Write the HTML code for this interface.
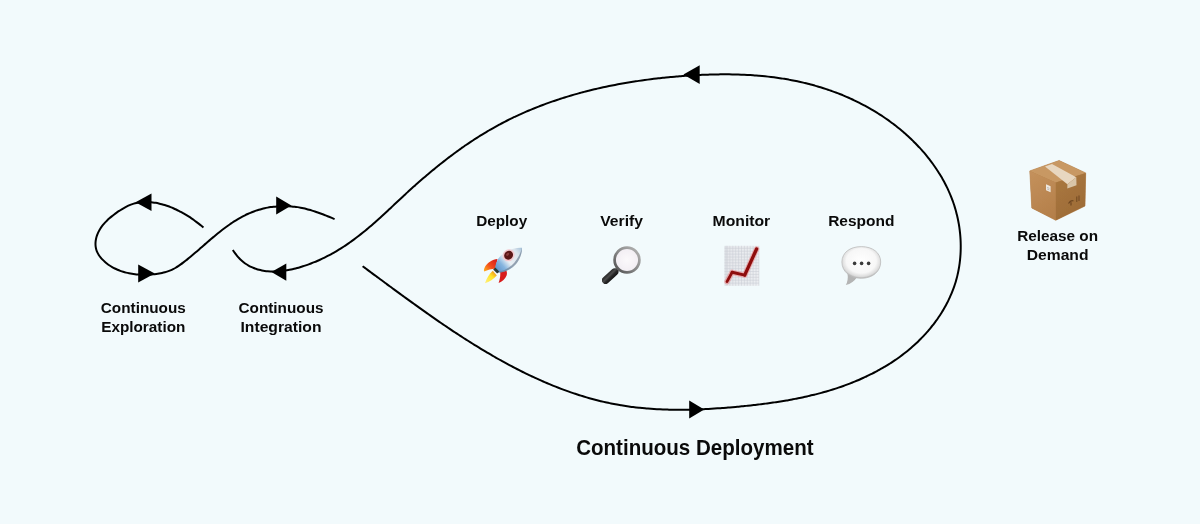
<!DOCTYPE html>
<html><head><meta charset="utf-8"><style>
html,body{margin:0;padding:0;background:#F2FAFC;}
body{width:1200px;height:524px;overflow:hidden;position:relative;}
svg{position:absolute;left:0;top:0;}
text{font-family:"Liberation Sans",sans-serif;font-weight:bold;fill:#0a0a0a;text-anchor:middle;}
</style></head><body>
<svg width="1200" height="524" viewBox="0 0 1200 524">
<defs><filter id="soft" x="-10%" y="-10%" width="120%" height="120%"><feGaussianBlur stdDeviation="0.35"/></filter></defs>

<path d="M203.45,227.50C202.65,226.84 201.85,226.19 201.06,225.55C200.26,224.91 199.46,224.28 198.66,223.66C197.86,223.04 197.07,222.43 196.26,221.83C195.46,221.23 194.66,220.64 193.86,220.06C193.05,219.48 192.24,218.91 191.43,218.35C190.62,217.79 189.80,217.24 188.98,216.70C188.15,216.17 187.32,215.64 186.49,215.12C185.66,214.61 184.81,214.10 183.97,213.61C183.12,213.12 182.26,212.63 181.39,212.16C180.53,211.69 179.66,211.23 178.77,210.79C177.89,210.34 176.99,209.90 176.09,209.48C175.18,209.05 174.26,208.64 173.33,208.24C172.41,207.84 171.47,207.46 170.52,207.09C169.57,206.71 168.61,206.36 167.64,206.02C166.67,205.68 165.70,205.35 164.72,205.05C163.74,204.74 162.75,204.46 161.76,204.19C160.77,203.92 159.77,203.68 158.77,203.45C157.77,203.23 156.77,203.03 155.77,202.85C154.77,202.67 153.76,202.52 152.76,202.39C151.76,202.27 150.75,202.16 149.75,202.09C148.75,202.02 147.75,201.97 146.76,201.96C145.77,201.94 144.77,201.96 143.79,202.00C142.81,202.05 141.83,202.12 140.86,202.23C139.88,202.35 138.92,202.49 137.96,202.67C137.01,202.85 136.06,203.06 135.13,203.31C134.19,203.56 133.26,203.85 132.34,204.16C131.43,204.48 130.52,204.82 129.62,205.20C128.71,205.57 127.82,205.98 126.94,206.41C126.05,206.84 125.17,207.29 124.30,207.77C123.43,208.25 122.57,208.75 121.71,209.27C120.86,209.80 120.01,210.34 119.17,210.90C118.33,211.46 117.49,212.04 116.66,212.63C115.83,213.23 115.01,213.83 114.19,214.46C113.37,215.08 112.56,215.71 111.76,216.36C110.96,217.01 110.17,217.67 109.40,218.35C108.62,219.03 107.86,219.72 107.12,220.43C106.39,221.14 105.67,221.87 104.97,222.62C104.28,223.37 103.61,224.13 102.97,224.92C102.33,225.71 101.72,226.51 101.14,227.34C100.57,228.17 100.02,229.02 99.52,229.90C99.02,230.77 98.55,231.67 98.13,232.58C97.71,233.50 97.33,234.43 97.01,235.38C96.68,236.32 96.40,237.28 96.17,238.24C95.94,239.21 95.77,240.18 95.65,241.15C95.54,242.11 95.48,243.08 95.48,244.05C95.49,245.01 95.56,245.97 95.69,246.91C95.83,247.86 96.03,248.79 96.31,249.70C96.59,250.62 96.94,251.52 97.35,252.39C97.77,253.27 98.25,254.13 98.78,254.96C99.32,255.79 99.90,256.60 100.54,257.39C101.17,258.17 101.85,258.94 102.56,259.67C103.27,260.40 104.01,261.11 104.78,261.79C105.54,262.47 106.33,263.11 107.14,263.73C107.95,264.35 108.77,264.94 109.61,265.50C110.44,266.06 111.30,266.59 112.16,267.09C113.03,267.59 113.91,268.06 114.81,268.51C115.70,268.96 116.61,269.37 117.53,269.77C118.44,270.16 119.37,270.53 120.31,270.87C121.25,271.21 122.20,271.53 123.16,271.82C124.12,272.11 125.09,272.38 126.06,272.62C127.04,272.87 128.02,273.09 129.01,273.29C129.99,273.49 130.99,273.67 131.99,273.82C132.99,273.98 133.99,274.11 135.00,274.22C136.00,274.34 137.01,274.43 138.03,274.51C139.04,274.58 140.05,274.64 141.07,274.67C142.08,274.71 143.10,274.73 144.12,274.73C145.13,274.73 146.15,274.71 147.16,274.68C148.17,274.64 149.18,274.59 150.19,274.53C151.20,274.46 152.20,274.38 153.20,274.29C154.20,274.19 155.20,274.08 156.19,273.96C157.18,273.83 158.16,273.69 159.14,273.52C160.11,273.36 161.08,273.18 162.04,272.97C163.00,272.76 163.96,272.53 164.90,272.27C165.85,272.02 166.78,271.73 167.70,271.42C168.63,271.11 169.54,270.77 170.44,270.39C171.34,270.02 172.23,269.61 173.11,269.17C173.98,268.72 174.85,268.24 175.70,267.74C176.55,267.24 177.39,266.70 178.22,266.15C179.06,265.60 179.88,265.02 180.70,264.43C181.51,263.84 182.32,263.24 183.12,262.63C183.92,262.01 184.72,261.39 185.51,260.77C186.30,260.15 187.09,259.52 187.87,258.88C188.66,258.25 189.43,257.62 190.21,256.98C190.98,256.34 191.76,255.69 192.53,255.05C193.29,254.40 194.06,253.75 194.82,253.10C195.59,252.45 196.35,251.80 197.11,251.14C197.87,250.49 198.63,249.83 199.38,249.17C200.14,248.52 200.89,247.86 201.65,247.20C202.40,246.54 203.16,245.88 203.91,245.22C204.67,244.57 205.42,243.91 206.18,243.25C206.93,242.59 207.69,241.94 208.45,241.28C209.21,240.63 209.96,239.98 210.73,239.33C211.49,238.68 212.25,238.03 213.01,237.38C213.78,236.74 214.55,236.09 215.32,235.45C216.09,234.82 216.86,234.18 217.64,233.55C218.42,232.92 219.20,232.29 219.98,231.67C220.77,231.04 221.56,230.42 222.35,229.81C223.15,229.20 223.95,228.59 224.75,227.99C225.55,227.39 226.36,226.80 227.17,226.21C227.98,225.63 228.80,225.05 229.62,224.48C230.45,223.91 231.27,223.35 232.10,222.79C232.94,222.24 233.77,221.69 234.62,221.16C235.46,220.63 236.31,220.10 237.16,219.59C238.02,219.07 238.88,218.57 239.74,218.08C240.61,217.59 241.48,217.11 242.36,216.64C243.24,216.18 244.12,215.72 245.01,215.28C245.90,214.84 246.80,214.41 247.70,214.00C248.61,213.58 249.52,213.18 250.43,212.80C251.35,212.41 252.27,212.04 253.20,211.69C254.13,211.33 255.07,210.99 256.02,210.67C256.96,210.35 257.91,210.05 258.87,209.76C259.83,209.47 260.80,209.20 261.77,208.94C262.74,208.69 263.71,208.45 264.69,208.23C265.67,208.00 266.66,207.80 267.64,207.61C268.63,207.42 269.63,207.25 270.62,207.10C271.62,206.94 272.61,206.81 273.61,206.69C274.61,206.57 275.62,206.46 276.62,206.38C277.62,206.29 278.63,206.22 279.64,206.17C280.64,206.12 281.65,206.09 282.65,206.07C283.66,206.05 284.66,206.05 285.67,206.07C286.67,206.09 287.67,206.12 288.68,206.17C289.68,206.23 290.68,206.30 291.67,206.39C292.67,206.47 293.66,206.58 294.65,206.70C295.64,206.82 296.63,206.97 297.61,207.12C298.59,207.28 299.57,207.46 300.54,207.65C301.52,207.84 302.49,208.04 303.46,208.26C304.43,208.48 305.39,208.71 306.36,208.96C307.32,209.21 308.28,209.47 309.23,209.74C310.19,210.01 311.15,210.30 312.10,210.59C313.05,210.89 314.00,211.19 314.94,211.51C315.89,211.82 316.84,212.15 317.78,212.48C318.72,212.81 319.66,213.15 320.60,213.50C321.54,213.85 322.48,214.20 323.41,214.56C324.35,214.92 325.28,215.29 326.22,215.66C327.15,216.03 328.08,216.41 329.01,216.78C329.94,217.16 330.87,217.54 331.80,217.93C332.73,218.31 333.66,218.70 334.59,219.09" fill="none" stroke="#000" stroke-width="2"/>
<path d="M232.85,249.97C233.48,250.99 234.14,251.97 234.81,252.90C235.48,253.84 236.16,254.73 236.86,255.59C237.57,256.44 238.29,257.25 239.02,258.03C239.75,258.80 240.50,259.54 241.27,260.23C242.03,260.93 242.81,261.59 243.60,262.22C244.39,262.84 245.20,263.43 246.02,263.98C246.83,264.53 247.66,265.05 248.51,265.53C249.35,266.02 250.20,266.47 251.07,266.89C251.93,267.31 252.81,267.70 253.69,268.05C254.58,268.41 255.47,268.73 256.37,269.03C257.28,269.33 258.19,269.59 259.11,269.83C260.03,270.07 260.96,270.28 261.90,270.47C262.83,270.65 263.77,270.81 264.72,270.94C265.67,271.07 266.63,271.18 267.59,271.26C268.55,271.35 269.51,271.41 270.48,271.45C271.46,271.48 272.43,271.50 273.41,271.49C274.39,271.49 275.37,271.46 276.35,271.41C277.34,271.37 278.32,271.30 279.31,271.21C280.30,271.13 281.29,271.03 282.28,270.91C283.27,270.79 284.26,270.65 285.25,270.50C286.24,270.34 287.23,270.18 288.22,269.99C289.21,269.81 290.20,269.61 291.19,269.41C292.18,269.20 293.16,268.97 294.14,268.74C295.13,268.51 296.11,268.26 297.08,268.00C298.06,267.74 299.04,267.47 300.01,267.19C300.98,266.91 301.95,266.62 302.91,266.32C303.88,266.01 304.84,265.70 305.81,265.38C306.77,265.05 307.72,264.72 308.68,264.37C309.63,264.02 310.58,263.67 311.53,263.30C312.48,262.94 313.42,262.56 314.36,262.17C315.30,261.79 316.24,261.39 317.17,260.99C318.11,260.59 319.04,260.17 319.96,259.75C320.89,259.33 321.81,258.90 322.73,258.46C323.65,258.02 324.56,257.57 325.47,257.11C326.38,256.66 327.29,256.19 328.19,255.72C329.09,255.25 329.98,254.77 330.88,254.28C331.77,253.80 332.66,253.30 333.54,252.80C334.42,252.30 335.30,251.79 336.18,251.28C337.05,250.76 337.92,250.24 338.78,249.71C339.65,249.18 340.51,248.65 341.36,248.11C342.21,247.57 343.06,247.02 343.91,246.47C344.75,245.92 345.59,245.36 346.42,244.80C347.25,244.24 348.08,243.67 348.90,243.10C349.73,242.53 350.54,241.95 351.36,241.37C352.17,240.78 352.98,240.20 353.78,239.60C354.58,239.01 355.38,238.42 356.18,237.82C356.97,237.22 357.76,236.61 358.55,236.00C359.33,235.39 360.11,234.78 360.89,234.16C361.67,233.54 362.45,232.92 363.22,232.30C363.99,231.68 364.76,231.05 365.52,230.42C366.29,229.78 367.05,229.15 367.81,228.51C368.56,227.87 369.32,227.23 370.07,226.59C370.83,225.94 371.58,225.30 372.32,224.65C373.07,224.00 373.82,223.35 374.56,222.69C375.30,222.04 376.04,221.38 376.78,220.72C377.52,220.06 378.26,219.40 378.99,218.74C379.73,218.07 380.46,217.41 381.19,216.74C381.93,216.07 382.66,215.40 383.39,214.73C384.12,214.06 384.85,213.39 385.57,212.72C386.30,212.04 387.03,211.37 387.76,210.69C388.48,210.02 389.21,209.34 389.93,208.66C390.66,207.98 391.38,207.31 392.11,206.63C392.83,205.95 393.56,205.27 394.28,204.59C395.01,203.91 395.73,203.23 396.46,202.55C397.19,201.87 397.91,201.19 398.64,200.51C399.37,199.83 400.09,199.15 400.82,198.47C401.55,197.79 402.28,197.11 403.01,196.43C403.74,195.75 404.47,195.07 405.21,194.40C405.94,193.72 406.67,193.04 407.41,192.37C408.15,191.69 408.89,191.02 409.63,190.34C410.37,189.67 411.11,189.00 411.85,188.33C412.60,187.65 413.34,186.98 414.09,186.32C414.84,185.65 415.58,184.98 416.33,184.32C417.09,183.65 417.84,182.98 418.59,182.32C419.35,181.66 420.10,181.00 420.86,180.34C421.62,179.68 422.38,179.02 423.14,178.36C423.90,177.71 424.66,177.05 425.43,176.40C426.19,175.75 426.96,175.09 427.73,174.44C428.50,173.80 429.27,173.15 430.04,172.50C430.81,171.86 431.59,171.21 432.36,170.57C433.14,169.93 433.91,169.29 434.69,168.65C435.47,168.01 436.25,167.38 437.04,166.74C437.82,166.11 438.61,165.48 439.39,164.85C440.18,164.22 440.97,163.59 441.76,162.97C442.55,162.34 443.34,161.72 444.13,161.10C444.93,160.48 445.72,159.87 446.52,159.25C447.32,158.64 448.12,158.02 448.92,157.41C449.72,156.80 450.53,156.20 451.33,155.59C452.14,154.99 452.94,154.39 453.75,153.79C454.56,153.19 455.37,152.59 456.18,152.00C457.00,151.41 457.81,150.82 458.63,150.23C459.45,149.64 460.26,149.06 461.08,148.48C461.90,147.89 462.73,147.32 463.55,146.74C464.37,146.17 465.20,145.59 466.03,145.03C466.86,144.46 467.69,143.89 468.52,143.33C469.35,142.77 470.18,142.21 471.02,141.65C471.85,141.10 472.69,140.54 473.53,139.99C474.37,139.45 475.21,138.90 476.05,138.36C476.90,137.82 477.74,137.28 478.59,136.74C479.44,136.21 480.29,135.68 481.14,135.15C481.99,134.62 482.84,134.10 483.70,133.58C484.55,133.06 485.41,132.55 486.27,132.03C487.12,131.52 487.99,131.01 488.85,130.51C489.71,130.01 490.58,129.50 491.44,129.01C492.31,128.51 493.18,128.02 494.05,127.53C494.92,127.05 495.79,126.56 496.67,126.08C497.54,125.60 498.42,125.13 499.29,124.65C500.17,124.18 501.05,123.72 501.94,123.25C502.82,122.79 503.70,122.33 504.59,121.87C505.47,121.42 506.36,120.96 507.25,120.52C508.14,120.07 509.03,119.62 509.92,119.18C510.82,118.74 511.71,118.31 512.61,117.88C513.50,117.44 514.40,117.02 515.30,116.59C516.20,116.17 517.10,115.75 518.01,115.33C518.91,114.91 519.82,114.50 520.72,114.09C521.63,113.68 522.54,113.27 523.45,112.87C524.36,112.47 525.27,112.07 526.18,111.68C527.10,111.28 528.01,110.89 528.93,110.51C529.85,110.12 530.76,109.74 531.68,109.36C532.60,108.98 533.52,108.60 534.45,108.23C535.37,107.86 536.29,107.49 537.22,107.12C538.15,106.76 539.07,106.40 540.00,106.04C540.93,105.68 541.86,105.33 542.79,104.98C543.73,104.62 544.66,104.28 545.59,103.93C546.53,103.59 547.46,103.25 548.40,102.91C549.34,102.58 550.28,102.24 551.22,101.91C552.16,101.59 553.10,101.26 554.04,100.94C554.99,100.61 555.93,100.29 556.88,99.98C557.82,99.66 558.77,99.35 559.72,99.04C560.66,98.73 561.61,98.43 562.56,98.12C563.51,97.82 564.47,97.52 565.42,97.23C566.37,96.93 567.33,96.64 568.28,96.35C569.24,96.06 570.20,95.78 571.15,95.49C572.11,95.21 573.07,94.93 574.03,94.66C574.99,94.38 575.95,94.11 576.91,93.84C577.88,93.57 578.84,93.30 579.81,93.04C580.77,92.78 581.74,92.52 582.70,92.26C583.67,92.01 584.64,91.75 585.61,91.50C586.58,91.25 587.55,91.00 588.52,90.76C589.49,90.52 590.46,90.27 591.43,90.04C592.41,89.80 593.38,89.56 594.35,89.33C595.33,89.10 596.30,88.87 597.28,88.65C598.26,88.42 599.24,88.20 600.21,87.98C601.19,87.76 602.17,87.54 603.15,87.33C604.13,87.11 605.11,86.90 606.10,86.70C607.08,86.49 608.06,86.28 609.04,86.08C610.03,85.88 611.01,85.68 612.00,85.48C612.98,85.29 613.97,85.10 614.96,84.90C615.94,84.71 616.93,84.53 617.92,84.34C618.91,84.16 619.89,83.98 620.88,83.80C621.87,83.62 622.86,83.44 623.86,83.27C624.85,83.09 625.84,82.92 626.83,82.75C627.82,82.59 628.82,82.42 629.81,82.26C630.80,82.10 631.80,81.94 632.79,81.78C633.79,81.62 634.78,81.47 635.78,81.32C636.77,81.16 637.77,81.01 638.77,80.87C639.76,80.72 640.76,80.58 641.76,80.44C642.76,80.29 643.76,80.16 644.75,80.02C645.75,79.88 646.75,79.75 647.75,79.62C648.75,79.49 649.75,79.36 650.75,79.23C651.75,79.11 652.75,78.98 653.76,78.86C654.76,78.74 655.76,78.62 656.76,78.51C657.76,78.39 658.77,78.28 659.77,78.17C660.77,78.06 661.78,77.95 662.78,77.84C663.78,77.73 664.79,77.63 665.79,77.53C666.80,77.43 667.80,77.33 668.80,77.23C669.81,77.13 670.81,77.04 671.82,76.95C672.82,76.86 673.83,76.77 674.84,76.68C675.84,76.59 676.85,76.50 677.85,76.42C678.86,76.34 679.86,76.26 680.87,76.18C681.88,76.10 682.88,76.02 683.89,75.95C684.90,75.88 685.90,75.80 686.91,75.74C687.92,75.67 688.92,75.60 689.93,75.53C690.94,75.47 691.94,75.41 692.95,75.35C693.96,75.29 694.96,75.23 695.97,75.17C696.98,75.12 697.98,75.06 698.99,75.01C700.00,74.96 701.00,74.92 702.01,74.87C703.02,74.83 704.02,74.79 705.03,74.75C706.04,74.71 707.04,74.67 708.05,74.64C709.06,74.60 710.06,74.57 711.07,74.54C712.07,74.52 713.08,74.49 714.09,74.47C715.09,74.45 716.10,74.43 717.10,74.41C718.11,74.39 719.11,74.38 720.12,74.37C721.12,74.36 722.13,74.35 723.13,74.35C724.13,74.35 725.14,74.35 726.14,74.35C727.15,74.35 728.15,74.36 729.15,74.37C730.16,74.38 731.16,74.39 732.16,74.41C733.16,74.42 734.16,74.44 735.17,74.47C736.17,74.49 737.17,74.52 738.17,74.55C739.17,74.58 740.17,74.61 741.17,74.65C742.17,74.69 743.17,74.73 744.17,74.78C745.17,74.82 746.17,74.87 747.16,74.92C748.16,74.98 749.16,75.03 750.16,75.09C751.15,75.15 752.15,75.22 753.15,75.29C754.14,75.36 755.14,75.43 756.13,75.50C757.13,75.58 758.12,75.66 759.11,75.75C760.11,75.83 761.10,75.92 762.09,76.01C763.08,76.11 764.07,76.20 765.07,76.31C766.06,76.41 767.05,76.51 768.04,76.62C769.02,76.74 770.01,76.85 771.00,76.97C771.99,77.09 772.98,77.21 773.96,77.34C774.95,77.47 775.93,77.60 776.92,77.74C777.90,77.88 778.89,78.02 779.87,78.16C780.85,78.31 781.84,78.46 782.82,78.62C783.80,78.78 784.78,78.94 785.76,79.10C786.74,79.27 787.72,79.44 788.69,79.61C789.67,79.79 790.65,79.97 791.62,80.16C792.60,80.34 793.58,80.53 794.55,80.73C795.52,80.92 796.50,81.12 797.47,81.33C798.44,81.53 799.41,81.75 800.38,81.96C801.35,82.18 802.32,82.40 803.29,82.63C804.26,82.85 805.22,83.09 806.19,83.32C807.15,83.56 808.12,83.80 809.08,84.05C810.04,84.30 811.01,84.55 811.97,84.81C812.93,85.07 813.89,85.34 814.85,85.61C815.81,85.88 816.76,86.15 817.72,86.44C818.68,86.72 819.63,87.00 820.58,87.30C821.54,87.59 822.49,87.89 823.44,88.19C824.39,88.50 825.34,88.81 826.29,89.12C827.23,89.44 828.18,89.76 829.12,90.09C830.07,90.41 831.01,90.75 831.95,91.08C832.89,91.42 833.83,91.77 834.77,92.12C835.70,92.47 836.64,92.82 837.57,93.18C838.51,93.54 839.44,93.91 840.37,94.28C841.29,94.65 842.22,95.03 843.14,95.42C844.07,95.80 844.99,96.19 845.91,96.58C846.83,96.98 847.75,97.38 848.66,97.78C849.58,98.19 850.49,98.60 851.40,99.02C852.31,99.44 853.22,99.86 854.12,100.29C855.03,100.72 855.93,101.16 856.83,101.60C857.73,102.04 858.63,102.48 859.52,102.94C860.41,103.39 861.31,103.85 862.19,104.31C863.08,104.77 863.97,105.24 864.85,105.72C865.73,106.19 866.61,106.67 867.49,107.16C868.36,107.65 869.23,108.14 870.10,108.64C870.97,109.13 871.84,109.64 872.70,110.15C873.56,110.66 874.42,111.17 875.28,111.69C876.13,112.21 876.99,112.74 877.84,113.27C878.68,113.81 879.53,114.35 880.37,114.89C881.21,115.43 882.05,115.98 882.88,116.54C883.72,117.10 884.55,117.66 885.38,118.22C886.20,118.79 887.02,119.36 887.84,119.94C888.66,120.52 889.48,121.11 890.29,121.70C891.10,122.29 891.90,122.88 892.70,123.49C893.51,124.09 894.30,124.70 895.10,125.31C895.89,125.92 896.68,126.54 897.46,127.17C898.25,127.80 899.03,128.43 899.81,129.06C900.58,129.70 901.35,130.34 902.12,130.99C902.89,131.64 903.65,132.30 904.41,132.96C905.16,133.62 905.92,134.28 906.66,134.96C907.41,135.63 908.15,136.31 908.89,136.99C909.63,137.67 910.36,138.36 911.09,139.06C911.82,139.75 912.54,140.46 913.26,141.16C913.97,141.87 914.69,142.58 915.39,143.30C916.10,144.02 916.80,144.74 917.49,145.47C918.19,146.20 918.88,146.93 919.56,147.67C920.24,148.41 920.92,149.16 921.59,149.91C922.26,150.66 922.92,151.42 923.58,152.18C924.24,152.94 924.89,153.71 925.53,154.48C926.18,155.25 926.82,156.03 927.45,156.82C928.08,157.60 928.70,158.39 929.32,159.18C929.94,159.97 930.55,160.77 931.15,161.57C931.75,162.38 932.35,163.19 932.94,164.00C933.53,164.81 934.11,165.63 934.68,166.45C935.25,167.28 935.82,168.11 936.38,168.94C936.94,169.77 937.49,170.61 938.03,171.45C938.57,172.30 939.10,173.14 939.63,174.00C940.15,174.85 940.67,175.70 941.18,176.57C941.69,177.43 942.19,178.29 942.68,179.16C943.17,180.04 943.65,180.91 944.13,181.79C944.60,182.67 945.07,183.56 945.52,184.44C945.98,185.33 946.43,186.23 946.87,187.13C947.30,188.02 947.73,188.93 948.15,189.83C948.57,190.74 948.98,191.65 949.38,192.56C949.78,193.48 950.17,194.40 950.55,195.32C950.93,196.25 951.30,197.17 951.66,198.11C952.02,199.04 952.37,199.97 952.71,200.91C953.05,201.85 953.38,202.80 953.70,203.75C954.02,204.69 954.33,205.65 954.63,206.60C954.93,207.56 955.21,208.52 955.49,209.48C955.77,210.44 956.04,211.41 956.29,212.38C956.55,213.35 956.79,214.32 957.02,215.30C957.26,216.28 957.48,217.25 957.69,218.24C957.91,219.22 958.11,220.20 958.30,221.19C958.49,222.17 958.67,223.16 958.84,224.15C959.00,225.14 959.16,226.14 959.31,227.13C959.45,228.12 959.59,229.12 959.71,230.12C959.84,231.11 959.95,232.11 960.05,233.11C960.15,234.11 960.24,235.11 960.32,236.11C960.40,237.11 960.47,238.12 960.53,239.12C960.58,240.12 960.63,241.12 960.66,242.13C960.70,243.13 960.72,244.13 960.73,245.14C960.74,246.14 960.74,247.14 960.73,248.15C960.71,249.15 960.69,250.15 960.65,251.15C960.62,252.15 960.57,253.15 960.51,254.15C960.45,255.15 960.38,256.15 960.30,257.15C960.22,258.14 960.12,259.14 960.02,260.13C959.91,261.13 959.79,262.12 959.67,263.11C959.54,264.10 959.39,265.09 959.24,266.07C959.09,267.06 958.92,268.04 958.74,269.02C958.57,270.00 958.38,270.98 958.17,271.96C957.97,272.93 957.76,273.90 957.53,274.87C957.31,275.84 957.07,276.81 956.82,277.77C956.57,278.73 956.30,279.69 956.03,280.65C955.75,281.60 955.47,282.55 955.17,283.50C954.87,284.45 954.56,285.39 954.23,286.33C953.91,287.27 953.57,288.21 953.23,289.14C952.88,290.07 952.52,291.00 952.16,291.92C951.79,292.84 951.41,293.76 951.01,294.68C950.62,295.59 950.22,296.50 949.81,297.41C949.39,298.31 948.97,299.21 948.53,300.11C948.10,301.01 947.66,301.90 947.20,302.78C946.74,303.67 946.28,304.55 945.80,305.43C945.33,306.31 944.84,307.18 944.35,308.05C943.85,308.91 943.34,309.78 942.83,310.63C942.31,311.49 941.79,312.34 941.26,313.19C940.72,314.03 940.18,314.88 939.63,315.71C939.07,316.55 938.51,317.38 937.94,318.20C937.37,319.03 936.79,319.85 936.21,320.66C935.62,321.48 935.02,322.28 934.42,323.09C933.81,323.89 933.20,324.69 932.58,325.48C931.96,326.27 931.33,327.05 930.69,327.83C930.06,328.61 929.41,329.38 928.76,330.15C928.11,330.92 927.45,331.68 926.78,332.43C926.11,333.19 925.44,333.93 924.75,334.67C924.07,335.42 923.38,336.15 922.69,336.88C921.99,337.61 921.29,338.33 920.58,339.05C919.87,339.76 919.15,340.47 918.43,341.17C917.71,341.88 916.98,342.57 916.24,343.26C915.51,343.95 914.77,344.63 914.02,345.30C913.27,345.98 912.52,346.65 911.76,347.31C911.00,347.97 910.24,348.62 909.47,349.27C908.70,349.91 907.92,350.55 907.14,351.19C906.36,351.82 905.57,352.44 904.78,353.06C903.99,353.68 903.19,354.29 902.39,354.90C901.59,355.50 900.78,356.10 899.97,356.70C899.16,357.29 898.34,357.87 897.52,358.45C896.70,359.03 895.87,359.60 895.04,360.17C894.21,360.73 893.38,361.29 892.54,361.84C891.70,362.39 890.86,362.94 890.01,363.48C889.16,364.02 888.31,364.55 887.45,365.08C886.60,365.60 885.74,366.12 884.88,366.64C884.01,367.15 883.15,367.66 882.27,368.16C881.40,368.66 880.53,369.16 879.65,369.64C878.77,370.13 877.89,370.62 877.01,371.09C876.12,371.57 875.24,372.04 874.34,372.50C873.45,372.97 872.56,373.42 871.66,373.88C870.77,374.33 869.87,374.77 868.96,375.21C868.06,375.65 867.16,376.09 866.25,376.52C865.34,376.94 864.43,377.37 863.52,377.78C862.61,378.20 861.69,378.61 860.77,379.02C859.86,379.42 858.94,379.82 858.01,380.21C857.09,380.61 856.17,381.00 855.24,381.38C854.32,381.76 853.39,382.14 852.46,382.51C851.53,382.88 850.60,383.24 849.67,383.60C848.74,383.96 847.81,384.32 846.87,384.67C845.94,385.02 845.00,385.36 844.06,385.70C843.12,386.04 842.18,386.37 841.24,386.70C840.30,387.03 839.36,387.35 838.42,387.67C837.48,387.98 836.53,388.30 835.59,388.60C834.64,388.91 833.69,389.21 832.75,389.51C831.80,389.81 830.85,390.10 829.90,390.39C828.95,390.68 828.00,390.96 827.04,391.24C826.09,391.52 825.14,391.79 824.18,392.06C823.22,392.33 822.27,392.60 821.31,392.86C820.35,393.12 819.39,393.37 818.43,393.62C817.47,393.88 816.51,394.12 815.55,394.37C814.59,394.61 813.62,394.85 812.66,395.08C811.69,395.32 810.73,395.55 809.76,395.77C808.79,396.00 807.83,396.22 806.86,396.44C805.89,396.66 804.92,396.88 803.95,397.09C802.98,397.30 802.01,397.50 801.03,397.71C800.06,397.91 799.09,398.11 798.11,398.31C797.14,398.50 796.16,398.70 795.18,398.88C794.21,399.07 793.23,399.26 792.25,399.44C791.27,399.62 790.29,399.80 789.31,399.98C788.33,400.15 787.35,400.33 786.36,400.49C785.38,400.66 784.40,400.83 783.41,400.99C782.43,401.15 781.45,401.31 780.46,401.47C779.47,401.63 778.49,401.78 777.50,401.93C776.51,402.08 775.52,402.23 774.53,402.38C773.54,402.52 772.55,402.67 771.56,402.81C770.57,402.95 769.58,403.08 768.59,403.22C767.60,403.35 766.60,403.49 765.61,403.62C764.62,403.75 763.62,403.88 762.63,404.00C761.63,404.13 760.64,404.25 759.64,404.37C758.64,404.49 757.65,404.61 756.65,404.73C755.65,404.84 754.65,404.96 753.65,405.07C752.65,405.18 751.65,405.29 750.65,405.40C749.65,405.51 748.65,405.62 747.65,405.72C746.65,405.83 745.64,405.93 744.64,406.03C743.64,406.14 742.64,406.24 741.63,406.33C740.63,406.43 739.62,406.53 738.62,406.63C737.61,406.72 736.61,406.81 735.60,406.91C734.60,407.00 733.59,407.09 732.58,407.18C731.58,407.27 730.57,407.36 729.56,407.44C728.55,407.53 727.55,407.61 726.54,407.69C725.53,407.77 724.52,407.85 723.51,407.93C722.50,408.01 721.49,408.08 720.48,408.16C719.47,408.23 718.46,408.30 717.45,408.37C716.44,408.44 715.43,408.51 714.42,408.57C713.41,408.64 712.40,408.70 711.39,408.76C710.38,408.82 709.37,408.88 708.36,408.94C707.35,408.99 706.34,409.04 705.33,409.10C704.32,409.15 703.31,409.19 702.30,409.24C701.28,409.28 700.27,409.33 699.26,409.37C698.25,409.41 697.24,409.44 696.23,409.48C695.22,409.51 694.21,409.54 693.20,409.57C692.19,409.60 691.18,409.63 690.17,409.65C689.16,409.67 688.15,409.69 687.14,409.71C686.13,409.73 685.12,409.74 684.11,409.75C683.10,409.76 682.09,409.77 681.08,409.77C680.08,409.78 679.07,409.78 678.06,409.77C677.05,409.77 676.04,409.76 675.04,409.75C674.03,409.75 673.02,409.73 672.02,409.72C671.01,409.70 670.00,409.68 669.00,409.66C667.99,409.63 666.99,409.60 665.98,409.57C664.98,409.54 663.98,409.51 662.97,409.47C661.97,409.43 660.97,409.39 659.97,409.34C658.96,409.29 657.96,409.24 656.96,409.19C655.96,409.14 654.96,409.08 653.96,409.01C652.96,408.95 651.96,408.89 650.97,408.81C649.97,408.74 648.97,408.67 647.97,408.59C646.98,408.51 645.98,408.43 644.99,408.34C643.99,408.25 643.00,408.16 642.01,408.06C641.01,407.97 640.02,407.86 639.03,407.76C638.04,407.65 637.05,407.54 636.06,407.43C635.07,407.31 634.08,407.19 633.09,407.07C632.11,406.95 631.12,406.82 630.14,406.68C629.15,406.55 628.17,406.41 627.18,406.27C626.20,406.12 625.22,405.97 624.24,405.82C623.26,405.67 622.28,405.51 621.30,405.34C620.32,405.18 619.34,405.01 618.37,404.84C617.39,404.66 616.42,404.49 615.44,404.30C614.47,404.12 613.50,403.93 612.52,403.74C611.55,403.54 610.58,403.34 609.61,403.14C608.64,402.94 607.68,402.73 606.71,402.51C605.74,402.30 604.78,402.08 603.81,401.86C602.85,401.64 601.89,401.41 600.92,401.18C599.96,400.94 599.00,400.71 598.04,400.46C597.08,400.22 596.12,399.98 595.17,399.73C594.21,399.47 593.25,399.22 592.30,398.96C591.34,398.70 590.39,398.43 589.44,398.17C588.48,397.90 587.53,397.62 586.58,397.35C585.63,397.07 584.68,396.79 583.74,396.50C582.79,396.21 581.84,395.92 580.89,395.63C579.95,395.33 579.00,395.03 578.06,394.73C577.12,394.43 576.18,394.12 575.23,393.81C574.29,393.49 573.35,393.18 572.41,392.86C571.48,392.54 570.54,392.21 569.60,391.89C568.66,391.56 567.73,391.23 566.80,390.89C565.86,390.55 564.93,390.21 564.00,389.87C563.06,389.53 562.13,389.18 561.20,388.83C560.27,388.47 559.34,388.12 558.42,387.76C557.49,387.40 556.56,387.04 555.64,386.67C554.71,386.30 553.79,385.93 552.87,385.56C551.94,385.19 551.02,384.81 550.10,384.43C549.18,384.04 548.26,383.66 547.34,383.27C546.42,382.88 545.50,382.49 544.59,382.10C543.67,381.70 542.76,381.30 541.84,380.90C540.93,380.50 540.01,380.09 539.10,379.68C538.19,379.27 537.28,378.86 536.37,378.45C535.46,378.03 534.55,377.61 533.64,377.19C532.74,376.77 531.83,376.34 530.92,375.92C530.02,375.49 529.11,375.06 528.21,374.62C527.31,374.19 526.41,373.75 525.50,373.31C524.60,372.87 523.70,372.42 522.80,371.98C521.91,371.53 521.01,371.08 520.11,370.63C519.21,370.18 518.32,369.72 517.42,369.26C516.53,368.81 515.64,368.34 514.74,367.88C513.85,367.42 512.96,366.95 512.07,366.48C511.18,366.01 510.29,365.54 509.40,365.07C508.51,364.59 507.63,364.11 506.74,363.63C505.85,363.15 504.97,362.67 504.08,362.19C503.20,361.70 502.32,361.21 501.44,360.72C500.55,360.23 499.67,359.74 498.79,359.25C497.91,358.75 497.03,358.26 496.16,357.76C495.28,357.26 494.40,356.75 493.53,356.25C492.65,355.75 491.78,355.24 490.90,354.73C490.03,354.22 489.16,353.71 488.29,353.20C487.41,352.69 486.54,352.17 485.67,351.65C484.81,351.14 483.94,350.62 483.07,350.10C482.20,349.58 481.34,349.05 480.47,348.53C479.61,348.00 478.74,347.47 477.88,346.95C477.01,346.42 476.15,345.89 475.29,345.35C474.43,344.82 473.57,344.28 472.71,343.75C471.85,343.21 470.99,342.67 470.14,342.13C469.28,341.59 468.42,341.05 467.57,340.51C466.71,339.97 465.86,339.42 465.01,338.87C464.15,338.33 463.30,337.78 462.45,337.23C461.60,336.68 460.75,336.13 459.90,335.58C459.05,335.02 458.20,334.47 457.35,333.91C456.51,333.36 455.66,332.80 454.82,332.24C453.97,331.69 453.13,331.13 452.28,330.56C451.44,330.00 450.60,329.44 449.76,328.88C448.92,328.32 448.08,327.75 447.24,327.18C446.40,326.62 445.56,326.05 444.72,325.48C443.89,324.92 443.05,324.35 442.21,323.78C441.38,323.21 440.54,322.64 439.71,322.06C438.88,321.49 438.05,320.92 437.21,320.34C436.38,319.77 435.55,319.20 434.72,318.62C433.89,318.04 433.06,317.47 432.24,316.89C431.41,316.31 430.58,315.73 429.76,315.16C428.93,314.58 428.11,314.00 427.28,313.42C426.46,312.84 425.64,312.26 424.82,311.67C423.99,311.09 423.17,310.51 422.35,309.93C421.53,309.35 420.71,308.76 419.90,308.18C419.08,307.60 418.26,307.01 417.45,306.43C416.63,305.84 415.81,305.26 415.00,304.67C414.19,304.09 413.37,303.50 412.56,302.92C411.75,302.33 410.94,301.74 410.13,301.16C409.32,300.57 408.51,299.98 407.70,299.40C406.89,298.81 406.08,298.22 405.27,297.64C404.47,297.05 403.66,296.46 402.86,295.88C402.05,295.29 401.25,294.70 400.44,294.11C399.64,293.53 398.84,292.94 398.04,292.35C397.24,291.77 396.44,291.18 395.64,290.59C394.84,290.01 394.04,289.42 393.24,288.83C392.44,288.25 391.65,287.66 390.85,287.07C390.06,286.49 389.26,285.90 388.47,285.32C387.67,284.73 386.88,284.15 386.09,283.56C385.30,282.98 384.50,282.39 383.71,281.81C382.92,281.23 382.13,280.64 381.35,280.06C380.56,279.48 379.77,278.89 378.98,278.31C378.20,277.73 377.41,277.15 376.62,276.57C375.84,275.99 375.06,275.41 374.27,274.83C373.49,274.25 372.71,273.67 371.92,273.10C371.14,272.52 370.36,271.94 369.58,271.36C368.80,270.79 368.02,270.21 367.25,269.64C366.47,269.07 365.69,268.49 364.91,267.92C364.14,267.35 363.36,266.78 362.59,266.21" fill="none" stroke="#000" stroke-width="2"/>

<g fill="#000"><polygon points="135.5,202.3 151.5,193.55 151.5,211.05"/><polygon points="154.8,273.6 138.20000000000002,264.6 138.20000000000002,282.6"/><polygon points="291.4,205.6 276.2,196.6 276.2,214.6"/><polygon points="271.4,272.1 286.29999999999995,263.40000000000003 286.29999999999995,280.8"/><polygon points="683.4,74.6 699.6999999999999,65.3 699.6999999999999,83.89999999999999"/><polygon points="704.2,409.5 689.2,400.45 689.2,418.55"/></g>

<g filter="url(#soft)">
  <defs>
    <linearGradient id="rb" gradientUnits="userSpaceOnUse" x1="496" y1="271" x2="522" y2="248">
      <stop offset="0" stop-color="#5a8fc8"/><stop offset="0.25" stop-color="#86b5df"/>
      <stop offset="0.45" stop-color="#e9eff4"/><stop offset="0.8" stop-color="#dbe4ec"/><stop offset="1" stop-color="#a4c0d8"/>
    </linearGradient>
    <linearGradient id="rshade" gradientUnits="userSpaceOnUse" x1="503" y1="256" x2="512" y2="266">
      <stop offset="0" stop-color="#ffffff" stop-opacity="0"/><stop offset="0.6" stop-color="#ffffff" stop-opacity="0"/><stop offset="1" stop-color="#5d6d80" stop-opacity="0.6"/>
    </linearGradient>
    <linearGradient id="rf1" gradientUnits="userSpaceOnUse" x1="496" y1="260" x2="484" y2="271">
      <stop offset="0" stop-color="#d8201a"/><stop offset="0.5" stop-color="#f24a1a"/><stop offset="1" stop-color="#ffb020"/>
    </linearGradient>
    <linearGradient id="rfl" gradientUnits="userSpaceOnUse" x1="494" y1="272" x2="485" y2="283">
      <stop offset="0" stop-color="#f0a020"/><stop offset="0.35" stop-color="#ffe42a"/><stop offset="1" stop-color="#fff080"/>
    </linearGradient>
  </defs>
  <path d="M497.5,259 C492.5,259.5 487.5,262.5 485.3,266.3 C484,268.6 483.6,270.5 484.2,271.6 C487.5,270 491.5,268.8 495.5,268.5 Z" fill="url(#rf1)"/>
  <path d="M500,271 C500.8,274.5 500,279 498.6,283 C502.2,281.6 505.4,278.6 506.7,275.2 C507.3,273.4 506.8,271.4 506.2,270.3 Z" fill="#d81e1e"/>
  <path d="M492.8,270.8 C489.4,273.8 486.6,278 485,283.2 C489.4,282 493.6,279.2 496.8,275.6 Z" fill="url(#rfl)"/>
  <path d="M521.9,247.7 C516,247.3 507,249.3 501,255.3 C497,259.3 495,264.8 495,270 L497.6,272.4 C502.4,272.6 508,271 513,267 C518.6,262.4 522.2,255 521.9,247.7 Z" fill="url(#rb)"/>
  <path d="M521.9,247.7 C522.2,255 518.6,262.4 513,267 C508,271 502.4,272.6 497.6,272.4 L497,271.8 C502,271.4 507,269.4 511.5,265.5 C516.5,261 520.5,254.5 521.9,247.7 Z" fill="#6f8296" opacity="0.7"/>
  <path d="M493.2,269.5 L495.3,267.6 L499.2,271.6 L497.2,273.6 Z" fill="#2b3a33"/>
  <ellipse cx="508.6" cy="255.3" rx="6.3" ry="5.8" transform="rotate(-45 508.6 255.3)" fill="#f3c9cf"/>
  <ellipse cx="508.6" cy="255.3" rx="4.7" ry="4.2" transform="rotate(-45 508.6 255.3)" fill="#5b1717"/>
  <ellipse cx="507.6" cy="254.3" rx="1.8" ry="1.3" transform="rotate(-45 507.6 254.3)" fill="#8c3b3b"/>
</g>

<g filter="url(#soft)">
  <defs>
    <radialGradient id="lens" cx="0.5" cy="0.5" r="0.5">
      <stop offset="0" stop-color="#fbf9fb"/><stop offset="0.85" stop-color="#f3eff4"/><stop offset="1" stop-color="#e2dee4"/>
    </radialGradient>
    <linearGradient id="ring" gradientUnits="userSpaceOnUse" x1="615" y1="272" x2="639" y2="248">
      <stop offset="0" stop-color="#4e4e4e"/><stop offset="0.5" stop-color="#8a8a8a"/><stop offset="1" stop-color="#b4b4b4"/>
    </linearGradient>
    <linearGradient id="hdl" gradientUnits="userSpaceOnUse" x1="606" y1="272" x2="614" y2="280">
      <stop offset="0" stop-color="#111"/><stop offset="0.45" stop-color="#4a4a4a"/><stop offset="0.6" stop-color="#2a2a2a"/><stop offset="1" stop-color="#0a0a0a"/>
    </linearGradient>
  </defs>
  <line x1="615.5" y1="271.5" x2="619.5" y2="267.5" stroke="#707070" stroke-width="4.2"/>
  <line x1="605.6" y1="280.3" x2="614.6" y2="272.1" stroke="url(#hdl)" stroke-width="7.4" stroke-linecap="round"/>
  <circle cx="627" cy="260" r="12.4" fill="url(#lens)" stroke="url(#ring)" stroke-width="2.7"/>
</g>

<g filter="url(#soft)">
  <defs>
    <linearGradient id="paper" x1="0" x2="1" y1="0" y2="0">
      <stop offset="0" stop-color="#d9dce2"/><stop offset="0.12" stop-color="#e6e8ec"/><stop offset="1" stop-color="#eceef1"/>
    </linearGradient>
  </defs>
  <rect x="724.5" y="245.8" width="34.5" height="40.0" fill="url(#paper)"/>
  <g stroke="#c9cdd5" stroke-width="0.55"><line x1="727.0" y1="245.8" x2="727.0" y2="285.8"/><line x1="729.9" y1="245.8" x2="729.9" y2="285.8"/><line x1="732.8" y1="245.8" x2="732.8" y2="285.8"/><line x1="735.7" y1="245.8" x2="735.7" y2="285.8"/><line x1="738.6" y1="245.8" x2="738.6" y2="285.8"/><line x1="741.5" y1="245.8" x2="741.5" y2="285.8"/><line x1="744.4" y1="245.8" x2="744.4" y2="285.8"/><line x1="747.3" y1="245.8" x2="747.3" y2="285.8"/><line x1="750.2" y1="245.8" x2="750.2" y2="285.8"/><line x1="753.1" y1="245.8" x2="753.1" y2="285.8"/><line x1="756.0" y1="245.8" x2="756.0" y2="285.8"/><line x1="758.9" y1="245.8" x2="758.9" y2="285.8"/><line x1="724.5" y1="248.3" x2="759" y2="248.3"/><line x1="724.5" y1="251.2" x2="759" y2="251.2"/><line x1="724.5" y1="254.1" x2="759" y2="254.1"/><line x1="724.5" y1="257.0" x2="759" y2="257.0"/><line x1="724.5" y1="259.9" x2="759" y2="259.9"/><line x1="724.5" y1="262.8" x2="759" y2="262.8"/><line x1="724.5" y1="265.7" x2="759" y2="265.7"/><line x1="724.5" y1="268.6" x2="759" y2="268.6"/><line x1="724.5" y1="271.5" x2="759" y2="271.5"/><line x1="724.5" y1="274.4" x2="759" y2="274.4"/><line x1="724.5" y1="277.3" x2="759" y2="277.3"/><line x1="724.5" y1="280.2" x2="759" y2="280.2"/><line x1="724.5" y1="283.1" x2="759" y2="283.1"/></g>
  <polyline points="727,281.6 732.1,272.3 744.7,275.1 756.6,249" fill="none" stroke="#ef6a6a" stroke-width="5.4" stroke-linejoin="round" stroke-linecap="round" opacity="0.45"/>
  <line x1="727" y1="281.6" x2="732.1" y2="272.3" stroke="#8e0e0e" stroke-width="2.8" stroke-linecap="round"/>
  <line x1="732.1" y1="272.3" x2="744.7" y2="275.1" stroke="#8e0e0e" stroke-width="3" stroke-linecap="round"/>
  <line x1="744.7" y1="275.1" x2="756.6" y2="249" stroke="#8e0e0e" stroke-width="3.3" stroke-linecap="round"/>
</g>

<g filter="url(#soft)">
  <defs>
    <radialGradient id="bub" cx="0.5" cy="0.45" r="0.55">
      <stop offset="0" stop-color="#ffffff"/><stop offset="0.7" stop-color="#f7f7f7"/><stop offset="0.9" stop-color="#dcdcdc"/><stop offset="1" stop-color="#b2b2b2"/>
    </radialGradient>
  </defs>
  <path d="M847.5,273 Q848.5,280.5 845.8,285 Q853,283.5 857.5,276.5 Z" fill="#b4b4b4"/>
  <path d="M861.3,246.6 C873,246.6 880.7,253 880.7,262 C880.7,271.5 872.5,278.3 861.3,278.3 C850,278.3 841.9,271.5 841.9,262 C841.9,253 849.5,246.6 861.3,246.6 Z" fill="url(#bub)" stroke="#bdbdbd" stroke-width="0.8"/>
  <circle cx="854.6" cy="263.4" r="1.8" fill="#3a3a3a"/>
  <circle cx="861.6" cy="263.4" r="1.8" fill="#3a3a3a"/>
  <circle cx="868.6" cy="263.4" r="1.8" fill="#3a3a3a"/>
</g>

<g filter="url(#soft)">
  <defs>
    <linearGradient id="bxl" gradientUnits="userSpaceOnUse" x1="1030" y1="175" x2="1056" y2="215">
      <stop offset="0" stop-color="#c3905b"/><stop offset="1" stop-color="#b47f4a"/>
    </linearGradient>
    <linearGradient id="bxr" gradientUnits="userSpaceOnUse" x1="1056" y1="180" x2="1085" y2="215">
      <stop offset="0" stop-color="#a9773f"/><stop offset="1" stop-color="#9c6a36"/>
    </linearGradient>
  </defs>
  <polygon points="1029.8,170.9 1059.1,160.5 1085.7,172.9 1085,206 1055.8,220.3 1031.8,208" fill="#b3804b" stroke="#b3804b" stroke-width="0.6" stroke-linejoin="round"/>
  <polygon points="1029.8,170.9 1059.1,160.5 1085.7,172.9 1055.8,182.6" fill="#c89863"/>
  <polygon points="1029.8,170.9 1055.8,182.6 1055.8,220.3 1031.8,208" fill="url(#bxl)"/>
  <polygon points="1055.8,182.6 1085.7,172.9 1085,206 1055.8,220.3" fill="url(#bxr)"/>
  <polygon points="1045,166.6 1052,164.1 1076.3,177.3 1067.4,184.2" fill="#e8d7c0"/>
  <polygon points="1067.4,184.2 1076.3,177.3 1076.5,185.2 1067.3,188.4" fill="#d9c5a8"/>
  <polygon points="1046,184.2 1050.6,186.3 1050.6,192.3 1046,190.2" fill="#eee8e0"/>
  <path d="M1047.2,187.4 l2.2,1 M1047.2,189 l2.2,1" stroke="#9a9a9a" stroke-width="0.6"/>
  <path d="M1068.5,203.5 q2.5,-4 5,-2.5 M1071,202.3 l0,3.2" stroke="#6e4622" stroke-width="1.2" fill="none"/>
  <path d="M1076.8,196.5 l0,5.5 M1079,195.5 l0,5.5" stroke="#6e4622" stroke-width="1" fill="none"/>
</g>
<g opacity="0.999"><text x="143.3" y="312.7" font-size="15.3">Continuous</text><text x="143.3" y="331.8" font-size="15.3">Exploration</text><text x="281" y="312.7" font-size="15.3">Continuous</text><text x="281" y="331.8" font-size="15.3" textLength="81.0" lengthAdjust="spacingAndGlyphs">Integration</text><text x="501.7" y="225.9" font-size="15.3">Deploy</text><text x="621.6" y="225.9" font-size="15.3" textLength="42.7" lengthAdjust="spacingAndGlyphs">Verify</text><text x="741.4" y="225.9" font-size="15.3" textLength="57.7" lengthAdjust="spacingAndGlyphs">Monitor</text><text x="861.3" y="225.9" font-size="15.3" textLength="66.3" lengthAdjust="spacingAndGlyphs">Respond</text><text x="1057.6" y="240.5" font-size="15.3">Release on</text><text x="1057.6" y="259.7" font-size="15.3" textLength="61.8" lengthAdjust="spacingAndGlyphs">Demand</text><text x="694.9" y="455.3" font-size="21.6" textLength="237.5" lengthAdjust="spacingAndGlyphs">Continuous Deployment</text></g>
</svg>
</body></html>
